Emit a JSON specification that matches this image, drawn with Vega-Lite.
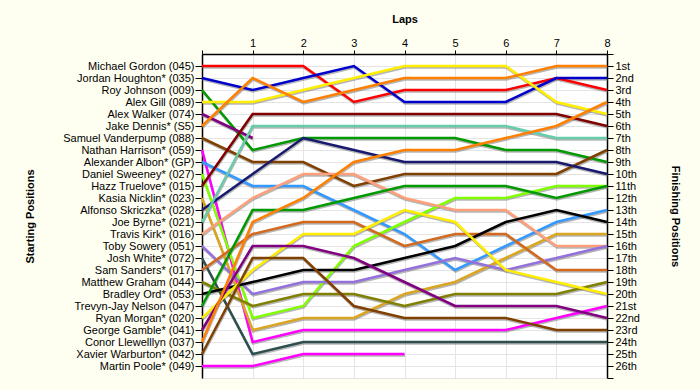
{
  "$schema": "https://vega.github.io/schema/vega-lite/v6.json",
  "width": 405,
  "height": 324,
  "autosize": {"type": "none"},
  "padding": {"left": 202, "top": 54, "right": 93, "bottom": 12},
  "background": "#FEFEF1",
  "config": {
    "view": {"fill": "#FFFFFF", "stroke": null},
    "font": "Liberation Sans",
    "axis": {
      "labelFont": "Liberation Sans",
      "titleFont": "Liberation Sans",
      "labelFontSize": 11,
      "titleFontSize": 11,
      "titleFontWeight": "bold",
      "labelColor": "#000000",
      "titleColor": "#000000",
      "tickColor": "#000000",
      "domainColor": "#000000",
      "domainWidth": 1.5,
      "gridColor": "#E4E4E4",
      "gridWidth": 1
    }
  },
  "data": {"values": [
    {"driver":"Michael Gordon (045)","start":1,"lap":0,"pos":1},{"driver":"Michael Gordon (045)","start":1,"lap":1,"pos":1},{"driver":"Michael Gordon (045)","start":1,"lap":2,"pos":1},{"driver":"Michael Gordon (045)","start":1,"lap":3,"pos":4},{"driver":"Michael Gordon (045)","start":1,"lap":4,"pos":3},{"driver":"Michael Gordon (045)","start":1,"lap":5,"pos":3},{"driver":"Michael Gordon (045)","start":1,"lap":6,"pos":3},{"driver":"Michael Gordon (045)","start":1,"lap":7,"pos":2},{"driver":"Michael Gordon (045)","start":1,"lap":8,"pos":3},
    {"driver":"Jordan Houghton* (035)","start":2,"lap":0,"pos":2},{"driver":"Jordan Houghton* (035)","start":2,"lap":1,"pos":3},{"driver":"Jordan Houghton* (035)","start":2,"lap":2,"pos":2},{"driver":"Jordan Houghton* (035)","start":2,"lap":3,"pos":1},{"driver":"Jordan Houghton* (035)","start":2,"lap":4,"pos":4},{"driver":"Jordan Houghton* (035)","start":2,"lap":5,"pos":4},{"driver":"Jordan Houghton* (035)","start":2,"lap":6,"pos":4},{"driver":"Jordan Houghton* (035)","start":2,"lap":7,"pos":2},{"driver":"Jordan Houghton* (035)","start":2,"lap":8,"pos":2},
    {"driver":"Roy Johnson (009)","start":3,"lap":0,"pos":3},{"driver":"Roy Johnson (009)","start":3,"lap":1,"pos":8},{"driver":"Roy Johnson (009)","start":3,"lap":2,"pos":7},{"driver":"Roy Johnson (009)","start":3,"lap":3,"pos":7},{"driver":"Roy Johnson (009)","start":3,"lap":4,"pos":7},{"driver":"Roy Johnson (009)","start":3,"lap":5,"pos":7},{"driver":"Roy Johnson (009)","start":3,"lap":6,"pos":8},{"driver":"Roy Johnson (009)","start":3,"lap":7,"pos":8},{"driver":"Roy Johnson (009)","start":3,"lap":8,"pos":9},
    {"driver":"Alex Gill (089)","start":4,"lap":0,"pos":4},{"driver":"Alex Gill (089)","start":4,"lap":1,"pos":4},{"driver":"Alex Gill (089)","start":4,"lap":2,"pos":3},{"driver":"Alex Gill (089)","start":4,"lap":3,"pos":2},{"driver":"Alex Gill (089)","start":4,"lap":4,"pos":1},{"driver":"Alex Gill (089)","start":4,"lap":5,"pos":1},{"driver":"Alex Gill (089)","start":4,"lap":6,"pos":1},{"driver":"Alex Gill (089)","start":4,"lap":7,"pos":4},{"driver":"Alex Gill (089)","start":4,"lap":8,"pos":5},
    {"driver":"Alex Walker (074)","start":5,"lap":0,"pos":5},{"driver":"Alex Walker (074)","start":5,"lap":1,"pos":7},
    {"driver":"Jake Dennis* (S5)","start":6,"lap":0,"pos":6},{"driver":"Jake Dennis* (S5)","start":6,"lap":1,"pos":2},{"driver":"Jake Dennis* (S5)","start":6,"lap":2,"pos":4},{"driver":"Jake Dennis* (S5)","start":6,"lap":3,"pos":3},{"driver":"Jake Dennis* (S5)","start":6,"lap":4,"pos":2},{"driver":"Jake Dennis* (S5)","start":6,"lap":5,"pos":2},{"driver":"Jake Dennis* (S5)","start":6,"lap":6,"pos":2},{"driver":"Jake Dennis* (S5)","start":6,"lap":7,"pos":1},{"driver":"Jake Dennis* (S5)","start":6,"lap":8,"pos":1},
    {"driver":"Samuel Vanderpump (088)","start":7,"lap":0,"pos":7},{"driver":"Samuel Vanderpump (088)","start":7,"lap":1,"pos":9},{"driver":"Samuel Vanderpump (088)","start":7,"lap":2,"pos":9},{"driver":"Samuel Vanderpump (088)","start":7,"lap":3,"pos":11},{"driver":"Samuel Vanderpump (088)","start":7,"lap":4,"pos":10},{"driver":"Samuel Vanderpump (088)","start":7,"lap":5,"pos":10},{"driver":"Samuel Vanderpump (088)","start":7,"lap":6,"pos":10},{"driver":"Samuel Vanderpump (088)","start":7,"lap":7,"pos":10},{"driver":"Samuel Vanderpump (088)","start":7,"lap":8,"pos":8},
    {"driver":"Nathan Harrison* (059)","start":8,"lap":0,"pos":8},{"driver":"Nathan Harrison* (059)","start":8,"lap":1,"pos":24},{"driver":"Nathan Harrison* (059)","start":8,"lap":2,"pos":23},{"driver":"Nathan Harrison* (059)","start":8,"lap":3,"pos":23},{"driver":"Nathan Harrison* (059)","start":8,"lap":4,"pos":23},{"driver":"Nathan Harrison* (059)","start":8,"lap":5,"pos":23},{"driver":"Nathan Harrison* (059)","start":8,"lap":6,"pos":23},{"driver":"Nathan Harrison* (059)","start":8,"lap":7,"pos":22},{"driver":"Nathan Harrison* (059)","start":8,"lap":8,"pos":21},
    {"driver":"Alexander Albon* (GP)","start":9,"lap":0,"pos":9},{"driver":"Alexander Albon* (GP)","start":9,"lap":1,"pos":11},{"driver":"Alexander Albon* (GP)","start":9,"lap":2,"pos":11},{"driver":"Alexander Albon* (GP)","start":9,"lap":3,"pos":13},{"driver":"Alexander Albon* (GP)","start":9,"lap":4,"pos":15},{"driver":"Alexander Albon* (GP)","start":9,"lap":5,"pos":18},{"driver":"Alexander Albon* (GP)","start":9,"lap":6,"pos":16},{"driver":"Alexander Albon* (GP)","start":9,"lap":7,"pos":14},{"driver":"Alexander Albon* (GP)","start":9,"lap":8,"pos":13},
    {"driver":"Daniel Sweeney* (027)","start":10,"lap":0,"pos":10},{"driver":"Daniel Sweeney* (027)","start":10,"lap":1,"pos":22},{"driver":"Daniel Sweeney* (027)","start":10,"lap":2,"pos":21},{"driver":"Daniel Sweeney* (027)","start":10,"lap":3,"pos":16},{"driver":"Daniel Sweeney* (027)","start":10,"lap":4,"pos":14},{"driver":"Daniel Sweeney* (027)","start":10,"lap":5,"pos":12},{"driver":"Daniel Sweeney* (027)","start":10,"lap":6,"pos":12},{"driver":"Daniel Sweeney* (027)","start":10,"lap":7,"pos":11},{"driver":"Daniel Sweeney* (027)","start":10,"lap":8,"pos":11},
    {"driver":"Hazz Truelove* (015)","start":11,"lap":0,"pos":11},{"driver":"Hazz Truelove* (015)","start":11,"lap":1,"pos":5},{"driver":"Hazz Truelove* (015)","start":11,"lap":2,"pos":5},{"driver":"Hazz Truelove* (015)","start":11,"lap":3,"pos":5},{"driver":"Hazz Truelove* (015)","start":11,"lap":4,"pos":5},{"driver":"Hazz Truelove* (015)","start":11,"lap":5,"pos":5},{"driver":"Hazz Truelove* (015)","start":11,"lap":6,"pos":5},{"driver":"Hazz Truelove* (015)","start":11,"lap":7,"pos":5},{"driver":"Hazz Truelove* (015)","start":11,"lap":8,"pos":6},
    {"driver":"Kasia Nicklin* (023)","start":12,"lap":0,"pos":12},{"driver":"Kasia Nicklin* (023)","start":12,"lap":1,"pos":23},{"driver":"Kasia Nicklin* (023)","start":12,"lap":2,"pos":22},{"driver":"Kasia Nicklin* (023)","start":12,"lap":3,"pos":22},{"driver":"Kasia Nicklin* (023)","start":12,"lap":4,"pos":20},{"driver":"Kasia Nicklin* (023)","start":12,"lap":5,"pos":19},{"driver":"Kasia Nicklin* (023)","start":12,"lap":6,"pos":17},{"driver":"Kasia Nicklin* (023)","start":12,"lap":7,"pos":15},{"driver":"Kasia Nicklin* (023)","start":12,"lap":8,"pos":15},
    {"driver":"Alfonso Skriczka* (028)","start":13,"lap":0,"pos":13},{"driver":"Alfonso Skriczka* (028)","start":13,"lap":1,"pos":10},{"driver":"Alfonso Skriczka* (028)","start":13,"lap":2,"pos":7},{"driver":"Alfonso Skriczka* (028)","start":13,"lap":3,"pos":8},{"driver":"Alfonso Skriczka* (028)","start":13,"lap":4,"pos":9},{"driver":"Alfonso Skriczka* (028)","start":13,"lap":5,"pos":9},{"driver":"Alfonso Skriczka* (028)","start":13,"lap":6,"pos":9},{"driver":"Alfonso Skriczka* (028)","start":13,"lap":7,"pos":9},{"driver":"Alfonso Skriczka* (028)","start":13,"lap":8,"pos":10},
    {"driver":"Joe Byrne* (021)","start":14,"lap":0,"pos":14},{"driver":"Joe Byrne* (021)","start":14,"lap":1,"pos":6},{"driver":"Joe Byrne* (021)","start":14,"lap":2,"pos":6},{"driver":"Joe Byrne* (021)","start":14,"lap":3,"pos":6},{"driver":"Joe Byrne* (021)","start":14,"lap":4,"pos":6},{"driver":"Joe Byrne* (021)","start":14,"lap":5,"pos":6},{"driver":"Joe Byrne* (021)","start":14,"lap":6,"pos":6},{"driver":"Joe Byrne* (021)","start":14,"lap":7,"pos":7},{"driver":"Joe Byrne* (021)","start":14,"lap":8,"pos":7},
    {"driver":"Travis Kirk* (016)","start":15,"lap":0,"pos":15},{"driver":"Travis Kirk* (016)","start":15,"lap":1,"pos":12},{"driver":"Travis Kirk* (016)","start":15,"lap":2,"pos":10},{"driver":"Travis Kirk* (016)","start":15,"lap":3,"pos":10},{"driver":"Travis Kirk* (016)","start":15,"lap":4,"pos":12},{"driver":"Travis Kirk* (016)","start":15,"lap":5,"pos":13},{"driver":"Travis Kirk* (016)","start":15,"lap":6,"pos":13},{"driver":"Travis Kirk* (016)","start":15,"lap":7,"pos":16},{"driver":"Travis Kirk* (016)","start":15,"lap":8,"pos":16},
    {"driver":"Toby Sowery (051)","start":16,"lap":0,"pos":16},{"driver":"Toby Sowery (051)","start":16,"lap":1,"pos":20},{"driver":"Toby Sowery (051)","start":16,"lap":2,"pos":19},{"driver":"Toby Sowery (051)","start":16,"lap":3,"pos":19},{"driver":"Toby Sowery (051)","start":16,"lap":4,"pos":18},{"driver":"Toby Sowery (051)","start":16,"lap":5,"pos":17},{"driver":"Toby Sowery (051)","start":16,"lap":6,"pos":18},{"driver":"Toby Sowery (051)","start":16,"lap":7,"pos":17},{"driver":"Toby Sowery (051)","start":16,"lap":8,"pos":16},
    {"driver":"Josh White* (072)","start":17,"lap":0,"pos":17},{"driver":"Josh White* (072)","start":17,"lap":1,"pos":25},{"driver":"Josh White* (072)","start":17,"lap":2,"pos":24},{"driver":"Josh White* (072)","start":17,"lap":3,"pos":24},{"driver":"Josh White* (072)","start":17,"lap":4,"pos":24},{"driver":"Josh White* (072)","start":17,"lap":5,"pos":24},{"driver":"Josh White* (072)","start":17,"lap":6,"pos":24},{"driver":"Josh White* (072)","start":17,"lap":7,"pos":24},{"driver":"Josh White* (072)","start":17,"lap":8,"pos":24},
    {"driver":"Sam Sanders* (017)","start":18,"lap":0,"pos":18},{"driver":"Sam Sanders* (017)","start":18,"lap":1,"pos":15},{"driver":"Sam Sanders* (017)","start":18,"lap":2,"pos":14},{"driver":"Sam Sanders* (017)","start":18,"lap":3,"pos":14},{"driver":"Sam Sanders* (017)","start":18,"lap":4,"pos":16},{"driver":"Sam Sanders* (017)","start":18,"lap":5,"pos":15},{"driver":"Sam Sanders* (017)","start":18,"lap":6,"pos":15},{"driver":"Sam Sanders* (017)","start":18,"lap":7,"pos":18},{"driver":"Sam Sanders* (017)","start":18,"lap":8,"pos":18},
    {"driver":"Matthew Graham (044)","start":19,"lap":0,"pos":19},{"driver":"Matthew Graham (044)","start":19,"lap":1,"pos":21},{"driver":"Matthew Graham (044)","start":19,"lap":2,"pos":20},{"driver":"Matthew Graham (044)","start":19,"lap":3,"pos":20},{"driver":"Matthew Graham (044)","start":19,"lap":4,"pos":21},{"driver":"Matthew Graham (044)","start":19,"lap":5,"pos":20},{"driver":"Matthew Graham (044)","start":19,"lap":6,"pos":20},{"driver":"Matthew Graham (044)","start":19,"lap":7,"pos":20},{"driver":"Matthew Graham (044)","start":19,"lap":8,"pos":19},
    {"driver":"Bradley Ord* (053)","start":20,"lap":0,"pos":20},{"driver":"Bradley Ord* (053)","start":20,"lap":1,"pos":19},{"driver":"Bradley Ord* (053)","start":20,"lap":2,"pos":18},{"driver":"Bradley Ord* (053)","start":20,"lap":3,"pos":18},{"driver":"Bradley Ord* (053)","start":20,"lap":4,"pos":17},{"driver":"Bradley Ord* (053)","start":20,"lap":5,"pos":16},{"driver":"Bradley Ord* (053)","start":20,"lap":6,"pos":14},{"driver":"Bradley Ord* (053)","start":20,"lap":7,"pos":13},{"driver":"Bradley Ord* (053)","start":20,"lap":8,"pos":14},
    {"driver":"Trevyn-Jay Nelson (047)","start":21,"lap":0,"pos":21},{"driver":"Trevyn-Jay Nelson (047)","start":21,"lap":1,"pos":13},{"driver":"Trevyn-Jay Nelson (047)","start":21,"lap":2,"pos":13},{"driver":"Trevyn-Jay Nelson (047)","start":21,"lap":3,"pos":12},{"driver":"Trevyn-Jay Nelson (047)","start":21,"lap":4,"pos":11},{"driver":"Trevyn-Jay Nelson (047)","start":21,"lap":5,"pos":11},{"driver":"Trevyn-Jay Nelson (047)","start":21,"lap":6,"pos":11},{"driver":"Trevyn-Jay Nelson (047)","start":21,"lap":7,"pos":12},{"driver":"Trevyn-Jay Nelson (047)","start":21,"lap":8,"pos":11},
    {"driver":"Ryan Morgan* (020)","start":22,"lap":0,"pos":22},{"driver":"Ryan Morgan* (020)","start":22,"lap":1,"pos":18},{"driver":"Ryan Morgan* (020)","start":22,"lap":2,"pos":15},{"driver":"Ryan Morgan* (020)","start":22,"lap":3,"pos":15},{"driver":"Ryan Morgan* (020)","start":22,"lap":4,"pos":13},{"driver":"Ryan Morgan* (020)","start":22,"lap":5,"pos":14},{"driver":"Ryan Morgan* (020)","start":22,"lap":6,"pos":18},{"driver":"Ryan Morgan* (020)","start":22,"lap":7,"pos":19},{"driver":"Ryan Morgan* (020)","start":22,"lap":8,"pos":20},
    {"driver":"George Gamble* (041)","start":23,"lap":0,"pos":23},{"driver":"George Gamble* (041)","start":23,"lap":1,"pos":16},{"driver":"George Gamble* (041)","start":23,"lap":2,"pos":16},{"driver":"George Gamble* (041)","start":23,"lap":3,"pos":17},{"driver":"George Gamble* (041)","start":23,"lap":4,"pos":19},{"driver":"George Gamble* (041)","start":23,"lap":5,"pos":21},{"driver":"George Gamble* (041)","start":23,"lap":6,"pos":21},{"driver":"George Gamble* (041)","start":23,"lap":7,"pos":21},{"driver":"George Gamble* (041)","start":23,"lap":8,"pos":22},
    {"driver":"Conor Llewelllyn (037)","start":24,"lap":0,"pos":24},{"driver":"Conor Llewelllyn (037)","start":24,"lap":1,"pos":14},{"driver":"Conor Llewelllyn (037)","start":24,"lap":2,"pos":12},{"driver":"Conor Llewelllyn (037)","start":24,"lap":3,"pos":9},{"driver":"Conor Llewelllyn (037)","start":24,"lap":4,"pos":8},{"driver":"Conor Llewelllyn (037)","start":24,"lap":5,"pos":8},{"driver":"Conor Llewelllyn (037)","start":24,"lap":6,"pos":7},{"driver":"Conor Llewelllyn (037)","start":24,"lap":7,"pos":6},{"driver":"Conor Llewelllyn (037)","start":24,"lap":8,"pos":4},
    {"driver":"Xavier Warburton* (042)","start":25,"lap":0,"pos":25},{"driver":"Xavier Warburton* (042)","start":25,"lap":1,"pos":17},{"driver":"Xavier Warburton* (042)","start":25,"lap":2,"pos":17},{"driver":"Xavier Warburton* (042)","start":25,"lap":3,"pos":21},{"driver":"Xavier Warburton* (042)","start":25,"lap":4,"pos":22},{"driver":"Xavier Warburton* (042)","start":25,"lap":5,"pos":22},{"driver":"Xavier Warburton* (042)","start":25,"lap":6,"pos":22},{"driver":"Xavier Warburton* (042)","start":25,"lap":7,"pos":23},{"driver":"Xavier Warburton* (042)","start":25,"lap":8,"pos":23},
    {"driver":"Martin Poole* (049)","start":26,"lap":0,"pos":26},{"driver":"Martin Poole* (049)","start":26,"lap":1,"pos":26},{"driver":"Martin Poole* (049)","start":26,"lap":2,"pos":25},{"driver":"Martin Poole* (049)","start":26,"lap":3,"pos":25},{"driver":"Martin Poole* (049)","start":26,"lap":4,"pos":25}
  ]},
  "encoding": {
    "x": {
      "field": "lap",
      "type": "quantitative",
      "scale": {"domain": [0, 8], "nice": false, "zero": false},
      "axis": {
        "orient": "top",
        "values": [0, 1, 2, 3, 4, 5, 6, 7, 8],
        "labelExpr": "datum.value == 0 ? '' : datum.label",
        "grid": true,
        "tickSize": 4,
        "labelPadding": 2,
        "labelFlush": false,
        "title": "Laps",
        "titleY": -35,
        "titleBaseline": "middle"
      }
    }
  },
  "layer": [
    {
      "mark": {"type": "line", "color": "#7A7A7A", "opacity": 0.55, "strokeWidth": 2.5, "yOffset": 1.5, "xOffset": 0.5},
      "encoding": {
        "y": {"field": "pos", "type": "quantitative", "scale": {"domain": [0, 27], "reverse": true, "nice": false, "zero": false}, "axis": null},
        "detail": {"field": "driver", "type": "nominal"},
        "order": {"field": "lap", "type": "quantitative"}
      }
    },
    {
      "mark": {"type": "line", "strokeWidth": 2.5},
      "encoding": {
        "y": {
          "field": "pos",
          "type": "quantitative",
          "scale": {"domain": [0, 27], "reverse": true, "nice": false, "zero": false},
          "axis": {
            "orient": "right",
            "values": [0, 1, 2, 3, 4, 5, 6, 7, 8, 9, 10, 11, 12, 13, 14, 15, 16, 17, 18, 19, 20, 21, 22, 23, 24, 25, 26, 27],
            "labelExpr": "(datum.value < 1 || datum.value > 26) ? '' : datum.value + ((datum.value % 10 == 1 && datum.value != 11) ? 'st' : (datum.value % 10 == 2 && datum.value != 12) ? 'nd' : (datum.value % 10 == 3 && datum.value != 13) ? 'rd' : 'th')",
            "grid": true,
            "tickSize": 6,
            "labelPadding": 2,
            "labelFlush": false,
            "labelOverlap": false,
            "title": "Finishing Positions",
            "titleX": 67,
            "titleBaseline": "middle"
          }
        },
        "color": {
          "field": "driver",
          "type": "nominal",
          "legend": null,
          "scale": {
            "domain": ["Michael Gordon (045)","Jordan Houghton* (035)","Roy Johnson (009)","Alex Gill (089)","Alex Walker (074)","Jake Dennis* (S5)","Samuel Vanderpump (088)","Nathan Harrison* (059)","Alexander Albon* (GP)","Daniel Sweeney* (027)","Hazz Truelove* (015)","Kasia Nicklin* (023)","Alfonso Skriczka* (028)","Joe Byrne* (021)","Travis Kirk* (016)","Toby Sowery (051)","Josh White* (072)","Sam Sanders* (017)","Matthew Graham (044)","Bradley Ord* (053)","Trevyn-Jay Nelson (047)","Ryan Morgan* (020)","George Gamble* (041)","Conor Llewelllyn (037)","Xavier Warburton* (042)","Martin Poole* (049)"],
            "range": ["#FF0000","#0000CC","#009900","#FFEE00","#800080","#FF8000","#804000","#FF00FF","#3399FF","#80FF00","#800000","#DAA520","#191970","#66CDAA","#FFA07A","#9370DB","#2F4F4F","#D2691E","#808000","#000000","#009900","#FFEE00","#800080","#FF8000","#804000","#FF00FF"]
          }
        },
        "order": {"field": "lap", "type": "quantitative"}
      }
    },
    {
      "transform": [{"filter": "datum.lap == 0"}],
      "mark": {"type": "point", "opacity": 0},
      "encoding": {
        "y": {
          "field": "driver",
          "type": "nominal",
          "sort": {"field": "start", "op": "min", "order": "ascending"},
          "scale": {"type": "point", "padding": 1},
          "axis": {
            "orient": "left",
            "grid": false,
            "tickSize": 7,
            "labelPadding": 1,
            "labelLimit": 300,
            "labelOverlap": false,
            "title": "Starting Positions",
            "titleX": -172,
            "titleBaseline": "middle"
          }
        }
      }
    }
  ],
  "resolve": {"scale": {"y": "independent"}, "axis": {"y": "independent"}}
}
